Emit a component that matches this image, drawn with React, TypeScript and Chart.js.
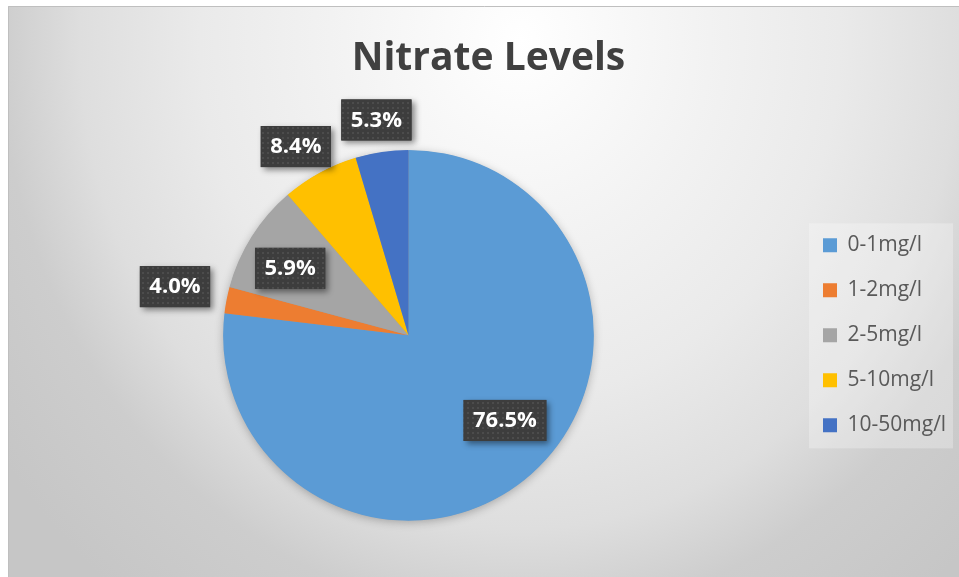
import { useEffect, useRef } from 'react';
import { Chart, registerables } from 'chart.js';

Chart.register(...registerables);

// ---- data ----
const categories = ['0-1mg/l', '1-2mg/l', '2-5mg/l', '5-10mg/l', '10-50mg/l'];
// slice sizes as drawn in the picture (percent of circle)
const sliceShares = [76.9, 2.3, 9.5, 6.7, 4.6];
// data-label texts as printed on the picture
const percentLabels = ['76.5%', '4.0%', '5.9%', '8.4%', '5.3%'];

// ---- styles ----
const sliceColors = ['#5B9BD5', '#ED7D31', '#A5A5A5', '#FFC000', '#4472C4'];
const LABEL_RADIUS = [0.694, 1.287, 0.734, 1.186, 1.175];
const LABEL_ANGLE_SHIFT = [-7.0, 0.8, -2.7, -2.2, -0.2];
const LEGEND_WIDTH = 160;
const FONT = "'Open Sans', sans-serif";

const frameAndBackground = {
  id: 'frameAndBackground',
  beforeLayout(chart: any) {
    const lg = chart.legend;
    if (lg && !lg.__fixedWidth) {
      const orig = lg.fit;
      lg.fit = function () {
        orig.call(this);
        this.width = LEGEND_WIDTH;
      };
      lg.__fixedWidth = true;
    }
  },
  beforeDraw(chart: any) {
    const ctx = chart.ctx as CanvasRenderingContext2D;
    const W = chart.width;
    const H = chart.height;
    ctx.save();
    ctx.fillStyle = '#ffffff';
    ctx.fillRect(0, 0, W, H);
    ctx.save();
    ctx.beginPath();
    ctx.rect(8, 6, W - 8, H - 6);
    ctx.clip();
    ctx.translate(520, 40);
    ctx.scale(1, 1 / 0.9);
    const g = ctx.createRadialGradient(0, 0, 0, 0, 0, 640);
    g.addColorStop(0, '#ffffff');
    g.addColorStop(0.297, '#f2f2f2');
    g.addColorStop(0.5, '#eaeaea');
    g.addColorStop(0.6875, '#dedede');
    g.addColorStop(0.8125, '#cdcdcd');
    g.addColorStop(1, '#c6c6c6');
    ctx.fillStyle = g;
    ctx.fillRect(-700, -100, 1400, 800);
    ctx.restore();
    ctx.strokeStyle = '#bfbfbf';
    ctx.lineWidth = 1;
    ctx.beginPath();
    ctx.moveTo(8.5, H + 2);
    ctx.lineTo(8.5, 6.5);
    ctx.lineTo(W + 2, 6.5);
    ctx.stroke();

    const lg = chart.legend;
    if (lg && lg.legendHitBoxes && lg.legendHitBoxes.length) {
      const hb = lg.legendHitBoxes;
      const first = hb[0];
      const last = hb[hb.length - 1];
      const x0 = lg.left + 10;
      const x1 = lg.right - 6;
      const y0 = first.top - 11.5;
      const y1 = last.top + last.height + 12.5;
      ctx.fillStyle = 'rgba(255,255,255,0.28)';
      ctx.fillRect(x0, y0, x1 - x0, y1 - y0);
    }
    ctx.restore();
  },
  beforeDatasetsDraw(chart: any) {
    const meta = chart.getDatasetMeta(0);
    const el = meta.data[0];
    if (!el) return;
    const p = el.getProps(['x', 'y', 'outerRadius'], true);
    const ctx = chart.ctx as CanvasRenderingContext2D;
    ctx.save();
    ctx.shadowColor = 'rgba(0,0,0,0.28)';
    ctx.shadowBlur = 10;
    ctx.shadowOffsetY = 2;
    ctx.fillStyle = '#9a9a9a';
    ctx.beginPath();
    ctx.arc(p.x, p.y, p.outerRadius - 0.5, 0, Math.PI * 2);
    ctx.fill();
    ctx.restore();
  },
};

function makePattern(ctx: CanvasRenderingContext2D) {
  const c = document.createElement('canvas');
  c.width = 5;
  c.height = 5;
  const g = c.getContext('2d')!;
  g.fillStyle = '#3d3d3d';
  g.fillRect(0, 0, 5, 5);
  g.fillStyle = '#4c4c4c';
  g.fillRect(2, 2, 2, 2);
  return ctx.createPattern(c, 'repeat')!;
}

const boxLabels = {
  id: 'boxLabels',
  afterDatasetsDraw(chart: any) {
    const ctx = chart.ctx as CanvasRenderingContext2D;
    const meta = chart.getDatasetMeta(0);
    const pattern = makePattern(ctx);
    ctx.save();
    ctx.font = `bold 22px ${FONT}`;
    meta.data.forEach((el: any, i: number) => {
      const p = el.getProps(['x', 'y', 'startAngle', 'endAngle', 'outerRadius'], true);
      const ang = (p.startAngle + p.endAngle) / 2 + (LABEL_ANGLE_SHIFT[i] * Math.PI) / 180;
      const r = p.outerRadius * LABEL_RADIUS[i];
      const cx = p.x + Math.cos(ang) * r;
      const cy = p.y + Math.sin(ang) * r;
      const text = percentLabels[i];
      const w = ctx.measureText(text).width + 19;
      const h = 41;
      const bx = cx - w / 2;
      const by = cy - h / 2;
      ctx.save();
      ctx.shadowColor = 'rgba(0,0,0,0.45)';
      ctx.shadowBlur = 6;
      ctx.shadowOffsetX = 3;
      ctx.shadowOffsetY = 3;
      ctx.fillStyle = '#3d3d3d';
      ctx.fillRect(bx, by, w, h);
      ctx.restore();
      ctx.fillStyle = pattern;
      ctx.fillRect(bx, by, w, h);
      ctx.fillStyle = '#ffffff';
      ctx.textAlign = 'center';
      ctx.textBaseline = 'middle';
      ctx.fillText(text, cx, cy + 0.5);
    });
    ctx.restore();
  },
};

export default function App() {
  const ref = useRef<HTMLCanvasElement>(null);
  useEffect(() => {
    if (!ref.current) return;
    const chart = new Chart(ref.current, {
      type: 'pie',
      data: {
        labels: categories,
        datasets: [
          {
            data: sliceShares,
            backgroundColor: sliceColors,
            borderWidth: 0,
            hoverOffset: 0,
          },
        ],
      },
      options: {
        responsive: false,
        animation: false,
        events: [],
        layout: { padding: { left: 18, right: 0, top: 0, bottom: 56.3 } },
        plugins: {
          tooltip: { enabled: false },
          title: {
            display: true,
            text: 'Nitrate Levels',
            color: '#404040',
            font: { family: FONT, size: 39, weight: 'bold' },
            lineHeight: 1.2,
            padding: { top: 35, bottom: 68.2 },
          },
          legend: {
            position: 'right',
            align: 'center',
            fullSize: false,
            labels: {
              boxWidth: 14,
              boxHeight: 14,
              padding: 24,
              color: '#595959',
              font: { family: FONT, size: 21 },
            },
          },
        },
      },
      plugins: [frameAndBackground, boxLabels],
    } as any);
    return () => chart.destroy();
  }, []);
  return (
    <div style={{ position: 'fixed', left: 0, top: 0, width: 959, height: 577, overflow: 'hidden', background: '#fff' }}>
      <canvas ref={ref} width={959} height={577} style={{ display: 'block', width: 959, height: 577 }} />
    </div>
  );
}
